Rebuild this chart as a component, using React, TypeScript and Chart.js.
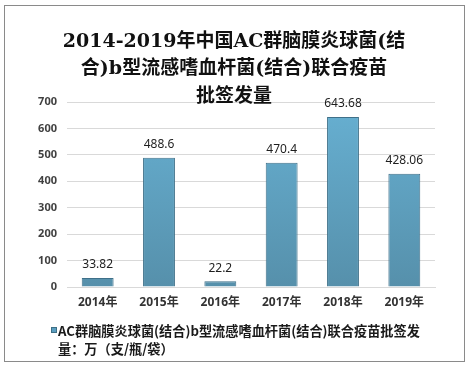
import React, { useEffect, useRef } from "react";
import { Chart, registerables } from "chart.js";

Chart.register(...registerables);

const categories = ["2014年", "2015年", "2016年", "2017年", "2018年", "2019年"];
const values = [33.82, 488.6, 22.2, 470.4, 643.68, 428.06];
const valueLabels = ["33.82", "488.6", "22.2", "470.4", "643.68", "428.06"];
const titleLines = [
  "2014-2019年中国AC群脑膜炎球菌(结",
  "合)b型流感嗜血杆菌(结合)联合疫苗",
  "批签发量",
];
const legendLines = [
  "AC群脑膜炎球菌(结合)b型流感嗜血杆菌(结合)联合疫苗批签发",
  "量：万（支/瓶/袋）",
];

const W = 471;
const H = 367;

const decorPlugin = {
  id: "decor",
  beforeDraw(chart: any) {
    const ctx = chart.ctx;
    ctx.save();
    ctx.fillStyle = "#ffffff";
    ctx.fillRect(0, 0, W, H);
    ctx.restore();
  },
  afterDraw(chart: any) {
    const ctx = chart.ctx;
    ctx.save();
    // border
    ctx.strokeStyle = "#8a8a8a";
    ctx.lineWidth = 1;
    ctx.strokeRect(4.5, 5.5, 460, 356);
    // title
    ctx.fillStyle = "#111111";
    ctx.font = "bold 19px 'DejaVu Serif', 'Noto Sans CJK SC', serif";
    ctx.textAlign = "center";
    ctx.textBaseline = "middle";
    const ys = [42, 69, 97];
    titleLines.forEach((t, i) => ctx.fillText(t, 234, ys[i]));
    // data labels
    const meta = chart.getDatasetMeta(0);
    ctx.font = "12px 'Noto Sans', 'DejaVu Sans', sans-serif";
    ctx.fillStyle = "#1e1e1e";
    meta.data.forEach((bar: any, i: number) => {
      ctx.fillText(valueLabels[i], bar.x, bar.y - 13);
    });
    // legend
    ctx.fillStyle = "#5a9ec0";
    ctx.fillRect(51, 327, 6, 6);
    ctx.strokeStyle = "#3e6f85";
    ctx.strokeRect(51.5, 327.5, 5, 5);
    ctx.fillStyle = "#1a1a1a";
    ctx.font = "bold 13.2px 'Noto Sans CJK SC', sans-serif";
    ctx.textAlign = "left";
    ctx.fillText(legendLines[0], 58, 331);
    ctx.fillText(legendLines[1], 58, 349);
    ctx.restore();
  },
};

export default function App() {
  const ref = useRef<HTMLCanvasElement>(null);
  useEffect(() => {
    const canvas = ref.current!;
    const chart = new Chart(canvas, {
      type: "bar",
      data: {
        labels: categories,
        datasets: [
          {
            label: legendLines.join(""),
            data: values,
            backgroundColor: (c: any) => {
              const area = c.chart.chartArea;
              if (!area) return "#5ea6c8";
              const g = c.chart.ctx.createLinearGradient(0, area.top, 0, area.bottom);
              g.addColorStop(0, "#67b0d2");
              g.addColorStop(1, "#5690ab");
              return g;
            },
            borderColor: "#3f7089",
            borderWidth: 1,
            barPercentage: 0.52,
            categoryPercentage: 1,
          },
        ],
      },
      options: {
        responsive: false,
        animation: false,
        devicePixelRatio: 1,
        layout: { padding: { left: 0, right: 36, top: 102, bottom: 50 } },
        plugins: {
          legend: { display: false },
          title: { display: false },
          tooltip: { enabled: false },
        },
        scales: {
          x: {
            grid: { display: false, drawTicks: false },
            border: { display: true, color: "#d9d9d9" },
            ticks: {
              padding: 8,
              color: "#333333",
              font: { size: 12, weight: "bold", family: "'Noto Sans', 'Noto Sans CJK SC', sans-serif" },
            },
            afterFit: (s: any) => {
              s.height = 30;
            },
          },
          y: {
            min: 0,
            max: 700,
            ticks: {
              stepSize: 100,
              padding: 10,
              color: "#404040",
              font: { size: 11, weight: "bold", family: "'Noto Sans', 'DejaVu Sans', sans-serif" },
            },
            grid: { color: "#d9d9d9", drawTicks: false },
            border: { display: false },
            afterFit: (s: any) => {
              s.width = 67;
            },
          },
        },
      },
      plugins: [decorPlugin],
    });
    return () => chart.destroy();
  }, []);
  return (
    <div style={{ position: "absolute", left: 0, top: 0, width: W, height: H }}>
      <canvas ref={ref} width={W} height={H} style={{ width: W, height: H, display: "block" }} />
    </div>
  );
}
